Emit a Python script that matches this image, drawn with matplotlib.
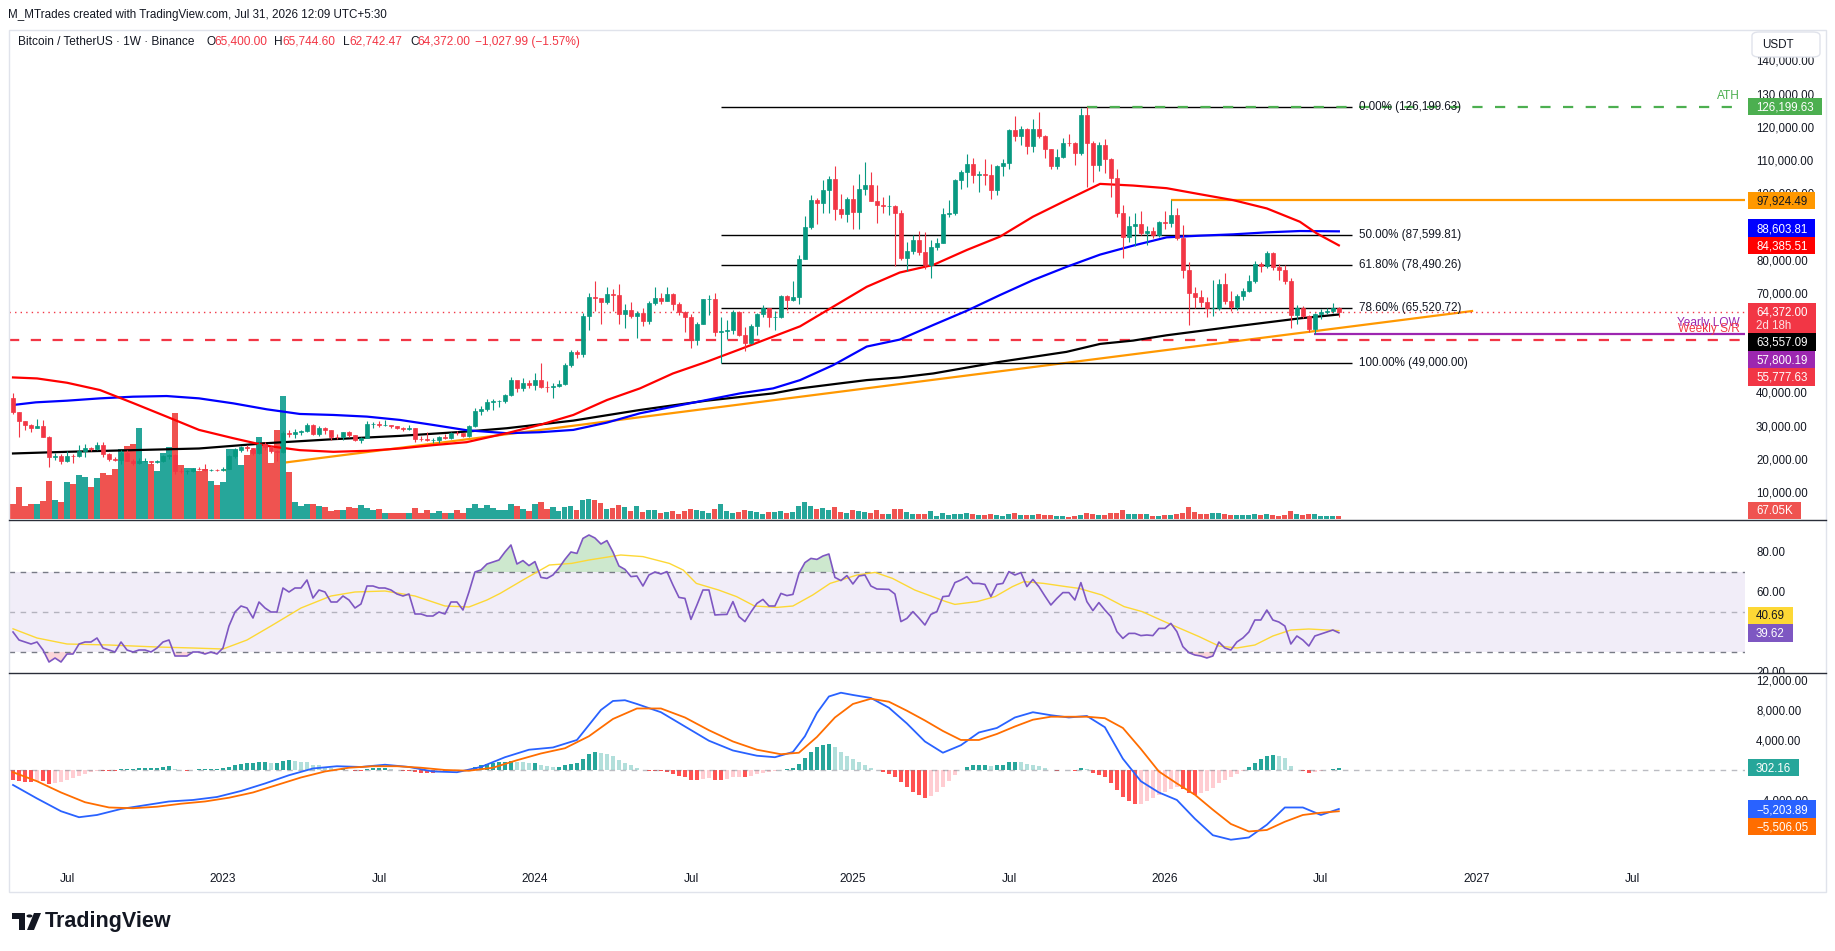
import numpy as np
import pandas as pd
import matplotlib
matplotlib.use("Agg")
import matplotlib.pyplot as plt
import matplotlib.transforms as mtransforms
from matplotlib.patches import Rectangle, FancyBboxPatch, Polygon, Circle
from matplotlib.lines import Line2D

plt.rcParams['font.family'] = ['Liberation Sans', 'DejaVu Sans']

# ---------------- data (prices in thousands of USDT, weekly bars from 2022-05-02) ----------------
first_open = 38.47
closes = [34.06, 31.33, 30.29, 29.45, 29.92, 26.57, 20.57, 21.03, 19.30, 20.85, 20.79, 22.58, 23.30, 23.18, 24.31,
          21.52, 20.05, 19.83, 21.83, 19.42, 18.93, 19.31, 19.42, 19.07, 19.57, 20.81, 21.16, 16.33, 16.28, 16.45,
          17.12, 17.10, 16.78, 16.84, 16.62, 17.13, 20.88, 22.71, 23.74, 23.33, 21.86, 24.63, 23.56, 22.43, 22.13,
          27.99, 27.48, 28.17, 28.32, 30.31, 27.59, 29.23, 28.85, 26.77, 26.75, 28.07, 27.12, 25.84, 26.34, 30.53,
          30.59, 30.17, 30.29, 29.86, 29.28, 29.04, 29.40, 26.10, 26.00, 25.83, 25.85, 26.53, 26.25, 27.97, 27.92,
          26.85, 29.99, 34.54, 35.01, 37.06, 37.36, 37.45, 39.46, 43.79, 41.37, 43.01, 42.28, 43.95, 41.73, 41.58,
          42.03, 42.58, 48.30, 52.14, 51.73, 63.11, 68.96, 68.39, 67.21, 69.65, 69.36, 63.82, 64.96, 63.11, 64.01,
          61.53, 66.94, 68.51, 67.77, 69.65, 66.68, 64.25, 62.77, 55.86, 60.79, 68.17, 68.25, 58.16, 58.72, 58.93,
          64.22, 57.30, 54.87, 59.98, 63.58, 65.64, 62.82, 62.86, 69.04, 68.02, 68.70, 80.37, 89.85, 97.90, 97.20,
          101.13, 104.46, 95.19, 93.72, 98.31, 94.52, 101.33, 102.60, 97.70, 96.46, 96.14, 96.25, 94.27, 80.70, 82.58,
          86.08, 82.39, 78.37, 83.76, 85.18, 93.75, 94.28, 104.10, 106.45, 109.00, 105.70, 105.73, 105.52, 100.96, 108.37,
          109.20, 119.08, 117.29, 119.45, 114.20, 119.30, 117.40, 113.50, 108.27, 111.10, 115.30, 115.25, 112.20, 123.50, 115.10,
          108.60, 114.60, 110.50, 104.70, 94.10, 86.90, 90.20, 90.80, 88.10, 88.70, 87.50, 91.40, 91.10, 93.50, 86.60,
          77.00, 70.00, 68.80, 67.30, 65.50, 65.60, 72.70, 67.60, 65.80, 69.10, 70.60, 73.60, 78.70, 78.20, 82.00,
          77.80, 77.00, 73.70, 63.40, 65.50, 63.10, 59.20, 63.70, 64.30, 64.60, 65.40, 64.372]
highs = [40.02, 34.24, 31.40, 30.68, 31.99, 31.77, 26.90, 21.87, 21.54, 22.53, 21.66, 24.28, 24.67, 23.65, 25.21,
         25.14, 21.88, 20.58, 22.80, 22.80, 19.96, 20.39, 20.48, 19.52, 19.70, 21.09, 21.48, 21.47, 17.19, 16.81,
         17.42, 17.48, 18.39, 16.95, 16.95, 17.49, 21.26, 23.37, 23.96, 24.26, 23.45, 25.25, 25.02, 23.88, 22.60,
         28.47, 28.87, 29.18, 28.80, 31.00, 30.47, 30.04, 29.82, 28.84, 27.66, 28.26, 28.45, 27.40, 26.80, 31.43,
         31.28, 31.50, 31.80, 30.35, 29.90, 29.74, 30.25, 29.47, 26.85, 28.15, 26.40, 27.00, 27.47, 28.06, 28.60,
         28.00, 30.38, 35.28, 35.98, 37.98, 38.00, 37.88, 39.70, 44.70, 43.43, 44.40, 43.80, 45.90, 49.05, 43.58,
         42.83, 43.88, 48.97, 52.80, 52.99, 64.00, 70.17, 73.78, 68.12, 71.73, 71.30, 72.80, 66.87, 67.23, 64.74,
         65.50, 67.70, 71.98, 70.00, 71.95, 70.18, 67.28, 64.50, 63.85, 61.37, 68.37, 69.40, 70.08, 62.75, 61.80,
         65.05, 64.48, 59.80, 60.60, 64.13, 66.50, 65.55, 64.48, 69.50, 69.52, 73.62, 81.50, 93.27, 99.59, 98.70,
         104.09, 105.25, 108.35, 99.96, 98.98, 102.70, 106.00, 109.59, 106.45, 102.50, 98.80, 99.48, 96.50, 95.00, 85.30,
         87.45, 88.77, 88.50, 86.10, 86.50, 95.75, 97.90, 104.36, 107.10, 111.98, 110.70, 106.80, 110.50, 108.95, 108.50,
         110.50, 119.50, 123.22, 120.25, 119.80, 122.30, 124.47, 117.60, 113.50, 113.40, 116.70, 117.90, 115.40, 125.70, 126.20,
         115.96, 115.50, 116.40, 110.80, 107.50, 96.60, 93.10, 94.20, 94.60, 90.30, 90.00, 91.80, 94.70, 97.92, 95.50,
         90.50, 79.30, 71.80, 70.90, 68.90, 73.90, 74.20, 76.00, 70.50, 69.80, 71.50, 75.40, 79.80, 79.30, 82.60,
         82.40, 78.80, 78.40, 74.50, 66.50, 66.20, 63.50, 64.00, 65.20, 65.40, 67.00, 65.7446]
lows = [33.71, 26.70, 28.63, 28.02, 29.30, 26.56, 17.62, 19.64, 18.63, 19.28, 18.91, 20.76, 20.71, 22.40, 22.66,
        20.76, 19.52, 19.55, 18.54, 19.32, 18.13, 18.47, 19.05, 18.19, 18.90, 19.24, 20.04, 15.59, 15.82, 15.48,
        16.13, 16.86, 16.52, 16.40, 16.33, 16.50, 17.13, 20.40, 22.29, 22.54, 21.35, 21.53, 22.80, 21.97, 19.55,
        21.90, 26.60, 26.50, 27.20, 28.17, 27.12, 26.94, 27.67, 25.81, 26.00, 25.87, 26.51, 25.35, 24.80, 26.25,
        29.50, 29.70, 29.95, 29.50, 29.00, 28.58, 28.70, 25.17, 25.35, 25.33, 24.90, 24.90, 26.20, 25.99, 27.27,
        26.53, 26.80, 29.66, 33.39, 34.52, 34.76, 35.63, 36.83, 39.00, 40.20, 40.55, 41.30, 40.75, 41.50, 40.28,
        38.55, 41.80, 42.25, 47.71, 50.52, 50.90, 59.00, 64.53, 60.76, 66.85, 64.50, 60.66, 59.60, 62.40, 56.55,
        60.19, 60.75, 66.30, 66.67, 67.60, 65.06, 63.37, 58.40, 53.50, 54.26, 60.63, 63.45, 57.12, 49.00, 56.10,
        57.80, 57.20, 52.55, 54.60, 57.50, 62.70, 59.83, 58.90, 62.45, 65.06, 67.50, 66.84, 80.20, 89.40, 90.77,
        94.20, 94.15, 92.10, 92.60, 91.50, 89.25, 89.26, 99.50, 97.70, 91.23, 94.10, 93.40, 78.25, 80.00, 76.60,
        81.70, 81.60, 77.15, 74.50, 83.00, 85.10, 92.90, 93.40, 101.40, 102.00, 103.10, 100.40, 102.66, 98.20, 99.60,
        105.20, 107.45, 115.73, 114.70, 112.00, 112.65, 116.80, 110.68, 107.25, 107.30, 110.60, 114.40, 108.70, 111.70, 102.00,
        103.50, 106.90, 106.30, 98.90, 93.00, 80.60, 85.40, 84.20, 87.60, 84.50, 86.50, 86.80, 89.30, 90.00, 86.10,
        74.60, 60.40, 65.50, 65.90, 62.80, 63.20, 64.80, 66.80, 64.60, 65.00, 67.90, 70.20, 73.00, 76.50, 77.60,
        77.00, 73.90, 72.80, 59.50, 60.60, 62.50, 58.30, 57.80, 62.30, 63.60, 64.00, 62.742]
volume_k = [330, 700, 290, 330, 330, 390, 840, 420, 370, 810, 770, 970, 920, 700, 900,
            1010, 975, 1100, 1530, 1600, 1650, 2000, 1280, 1200, 1060, 1460, 1580, 2340, 1190, 1130,
            1130, 1060, 1100, 840, 755, 815, 1540, 1540, 1195, 1415, 1525, 1810, 1700, 1225, 1960,
            2700, 1040, 375, 285, 330, 330, 285, 270, 180, 200, 200, 270, 235, 310, 250,
            200, 215, 140, 140, 130, 137, 137, 240, 137, 200, 130, 180, 140, 140, 200,
            140, 240, 330, 250, 300, 240, 200, 190, 330, 280, 230, 180, 330, 380, 230,
            260, 180, 260, 290, 190, 420, 440, 420, 360, 220, 240, 300, 260, 170, 280,
            160, 190, 200, 140, 150, 170, 120, 170, 230, 190, 170, 140, 210, 330, 170,
            140, 160, 190, 170, 150, 120, 160, 150, 170, 130, 150, 290, 380, 280, 230,
            250, 200, 260, 150, 140, 200, 170, 160, 140, 190, 110, 100, 220, 210, 150,
            100, 100, 120, 170, 70, 130, 90, 120, 100, 130, 100, 80, 90, 100, 90,
            60, 120, 140, 90, 90, 80, 100, 80, 90, 60, 60, 50, 70, 90, 140,
            120, 80, 80, 130, 130, 200, 120, 110, 100, 100, 60, 60, 80, 90, 100,
            140, 260, 160, 110, 120, 130, 130, 110, 90, 80, 80, 90, 120, 80, 100,
            90, 70, 80, 170, 120, 90, 120, 110, 70, 60, 70, 67.05]

# moving averages (sampled along the curves)
ma50_weeks = [0, 4, 9, 14.5, 20, 25.6, 31, 36.7, 42.3, 47.8, 53.4, 59, 64.5, 70, 75.6, 82.3, 87.8, 93.4, 99, 104.5,
              110, 115.6, 121.2, 126.7, 131.2, 136.7, 142.3, 147.8, 153.4, 159, 164.5, 170, 175.6, 181.2, 186.7,
              192.3, 197.8, 203.4, 209, 214.5, 217.3, 221]
ma50_vals = [44.6, 44.3, 43.0, 40.8, 36.9, 32.8, 28.8, 26.3, 24.0, 22.7, 22.2, 22.5, 23.2, 24.2, 25.1, 27.8, 30.3,
             33.3, 37.8, 41.3, 45.8, 49.3, 53.1, 56.9, 60.0, 65.9, 71.9, 76.2, 78.5, 83.0, 87.0, 93.0, 98.0, 102.9,
             102.4, 101.6, 99.8, 98.0, 95.5, 91.5, 88.0, 84.38551]
ma100_weeks = [0, 3.8, 9, 14.5, 20, 25.6, 31, 36.7, 42.3, 47.8, 53.4, 59, 64.5, 70, 75.6, 82.3, 87.8, 93.4, 99,
               104.5, 110, 115.6, 121.2, 126.7, 131.2, 136.7, 142.3, 147.8, 153.4, 159, 164.5, 170, 175.6, 181.2,
               186.7, 192.3, 197.8, 203.4, 209, 214.5, 221]
ma100_vals = [36.3, 37.1, 37.6, 38.3, 38.8, 39.0, 38.3, 36.8, 35.0, 33.6, 33.3, 32.8, 31.8, 30.3, 28.7, 27.8, 28.1,
              28.8, 31.0, 33.8, 35.8, 37.8, 39.8, 41.3, 43.8, 48.3, 53.9, 56.0, 60.4, 64.7, 69.4, 73.9, 77.9, 81.6,
              84.3, 86.8, 87.3, 87.7, 88.3, 88.7, 88.60381]
ma200_weeks = [0, 9, 20, 31, 42.3, 53.4, 64.5, 75.6, 82.3, 93.4, 104.5, 115.6, 126.7, 131.2, 137.8, 142.3, 147.8,
               153.4, 164.5, 175.6, 181.2, 186.7, 192.3, 203.4, 214.5, 221]
ma200_vals = [21.7, 22.2, 22.7, 23.2, 24.8, 26.0, 27.0, 28.3, 29.3, 31.6, 34.8, 37.6, 39.8, 41.3, 42.8, 43.8, 44.6,
              45.8, 49.3, 52.3, 54.7, 55.7, 57.3, 59.9, 62.4, 63.55709]

trend_weeks = [35.5, 243.2]
trend_prices = [16.7, 64.6]

fib_pcts = ['0.00%', '50.00%', '61.80%', '78.60%', '100.00%']
fib_prices = [126.19963, 87.59981, 78.49026, 65.52072, 49.0]
fib_span = [118, 223.2]

ath_price = 126.19963
ath_from = 179
res_price = 97.92449
res_from = 193
yearly_low = 57.80019
yearly_low_from = 216.8
weekly_sr = 55.77763

rsi = [40, 36, 35, 34, 35, 31, 25, 27, 25, 29, 29, 34, 35, 35, 37, 32, 31, 30, 35, 31, 30, 31, 31, 30, 32, 35, 36,
       28, 28, 28, 30, 30, 29, 30, 29, 32, 43, 50, 53, 52, 47, 55, 52, 50, 50, 62, 60, 62, 62, 66, 57, 61, 60, 55,
       55, 58, 56, 52, 54, 63, 63, 62, 62, 61, 59, 58, 59, 49, 49, 48, 48, 50, 49, 55, 55, 51, 60, 70, 71, 74, 75,
       76, 80, 83.5, 74, 75.7, 73.2, 75.2, 67.3, 66.8, 68.5, 72, 76.3, 80, 79.3, 86.8, 88.5, 87, 84, 85.7, 80, 73,
       71.3, 67.7, 68, 63, 68.5, 70, 69, 70.2, 63.5, 57.3, 56.8, 46.3, 53.5, 61, 61, 48.5, 48.7, 48.8, 55.2, 47.7,
       45.2, 50, 54.3, 56.3, 53, 53, 59.3, 58.2, 58.8, 69.3, 74.7, 76.8, 76.3, 78, 79, 67.3, 65.7, 68.2, 64, 68,
       68.5, 63, 61.5, 61.4, 61.3, 59, 45.2, 46.8, 50.2, 47, 43.5, 48.8, 50.2, 57.7, 58, 64.7, 66, 67.7, 64.3, 64.3,
       63.8, 57.7, 63.8, 64.3, 70.2, 68.5, 69.7, 62.7, 66.3, 62.7, 58, 53.5, 56.8, 59.7, 59.7, 56, 64.7, 55.2, 50.7,
       54.7, 51, 47.7, 40.2, 36.8, 39.3, 39.3, 38.2, 38.5, 38.2, 41.8, 41.8, 44.3, 40.2, 32.7, 29.7, 28.5, 28, 27,
       28, 35, 32, 31, 35, 37, 40, 46, 46, 51, 46, 45, 43, 34, 38, 36, 33, 38, 39, 40, 41, 39.62]
rsi_ma_weeks = [0, 4, 9, 16, 24, 30, 35, 39, 43, 48, 53, 57, 62, 67, 72, 76, 79, 81.2, 85, 89.4, 93.1, 96, 101.3,
                105, 109.4, 111.7, 113.9, 117.6, 120.6, 123.6, 127.3, 130, 133.3, 136.2, 140.7, 143.7, 146.6, 150.3,
                155.5, 157, 160.7, 163.7, 166.6, 168.5, 171.8, 175.5, 177.7, 181.5, 185.2, 188.2, 192.6, 197.7, 201,
                204, 207, 210, 213, 216, 219, 221]
rsi_ma = [41.6, 37, 34, 33.5, 32.5, 32, 31.5, 36, 43, 52, 58, 60, 60.5, 58, 53, 52.5, 56, 59.3, 66, 73.5, 74.3, 76,
          78.5, 77.7, 74.3, 71, 64.3, 61, 57.7, 53, 52.3, 53, 58.5, 64.3, 68.5, 69.8, 66.8, 61, 55.2, 53.8, 55.2,
          57.7, 62.7, 65.2, 64.3, 62.7, 61.8, 58.5, 52.7, 50.2, 44.3, 37.7, 33, 32, 33.5, 38, 41, 41.5, 41, 40.69]

macd_weeks = [0, 4, 8, 11, 14, 18, 22, 26, 30, 34, 38, 42, 46, 50, 54, 58, 62, 66, 70, 74, 78, 82, 86, 90, 94, 98,
              100, 102, 104, 108, 112, 116, 120, 124, 127, 130, 132, 134, 136, 138, 140, 143, 146, 149, 152, 155,
              158, 161, 164, 167, 170, 173, 176, 179, 182, 185, 188, 191, 194, 197, 200, 203, 206, 209, 212, 215,
              218, 221]
macd_line = [-2000, -3800, -5500, -6300, -6000, -5200, -4700, -4200, -4000, -3600, -2800, -1800, -700, 200, 500,
             400, 700, 400, -200, -300, 400, 1700, 2700, 3000, 4000, 8000, 9200, 9300, 8800, 7700, 5800, 3900, 2600,
             1900, 1700, 2400, 4500, 7600, 9800, 10300, 10000, 9600, 8300, 6200, 3800, 2300, 3300, 5000, 5600, 7000,
             7700, 7300, 7000, 7200, 5700, 1500, -1500, -3000, -4000, -6500, -8700, -9300, -9000, -7300, -5000,
             -5000, -6000, -5203.89]
signal_weeks = [0, 4, 8, 12, 16, 20, 24, 28, 32, 36, 40, 44, 48, 52, 56, 60, 64, 68, 72, 76, 80, 84, 88, 92, 96,
                100, 104, 108, 112, 116, 120, 124, 128, 131, 134, 137, 140, 143, 146, 149, 152, 155, 158, 161, 164,
                167, 170, 173, 176, 179, 182, 185, 188, 191, 194, 197, 200, 203, 206, 209, 212, 215, 218, 221]
signal_line = [-300, -1500, -3000, -4300, -5000, -5100, -4900, -4500, -4200, -3700, -3000, -2000, -1000, -200, 300,
               500, 500, 300, 0, -100, 300, 1300, 2200, 2900, 4500, 6800, 8200, 8200, 7000, 5300, 3800, 2700, 2100,
               2300, 4400, 7000, 8800, 9500, 9100, 7900, 6600, 5200, 4000, 4000, 4800, 5800, 6700, 7100, 7100, 7100,
               6900, 5600, 2800, -200, -1800, -3300, -5300, -7200, -8200, -8000, -6900, -6000, -5700, -5506.05]
macd_hist = [-1300, -1500, -1600, -1600, -1500, -1500, -1900, -1800, -1600, -1300, -1100, -800, -500, -300, -100,
             -100, -100, -100, 100, 100, 100, 200, 200, 200, 300, 400, 500, 100, 0, -100, 0, 100, 100, 100, 100,
             200, 400, 600, 800, 900, 900, 1000, 1000, 900, 900, 1200, 1300, 1200, 1100, 1000, 700, 600, 400, 200,
             100, 100, 0, -100, -100, 100, 200, 200, 200, 100, 0, -100, -100, -300, -400, -400, -400, -300, -300,
             -200, -100, -100, 100, 400, 600, 800, 900, 1000, 1000, 1200, 1100, 1000, 900, 900, 700, 500, 400, 400,
             600, 800, 900, 1500, 2100, 2400, 2300, 2100, 1800, 1300, 900, 600, 300, 0, -100, -100, -200, -300, -500,
             -800, -1000, -1300, -1400, -1200, -1100, -1300, -1300, -1200, -1000, -900, -900, -800, -600, -400, -300,
             -200, 0, 100, 200, 800, 1600, 2400, 3000, 3300, 3400, 3000, 2400, 1900, 1400, 1000, 700, 300, 0, -300,
             -600, -900, -1600, -2300, -2900, -3300, -3700, -3500, -3000, -2300, -1500, -700, 0, 400, 600, 700, 700,
             500, 600, 700, 1000, 1100, 1000, 800, 700, 500, 200, 0, -100, 0, 0, -100, 200, 100, -400, -700, -1000,
             -1700, -2700, -3600, -4200, -4600, -4500, -4200, -3800, -3300, -2900, -2500, -2300, -2600, -3100, -3300,
             -3100, -2800, -2400, -1800, -1300, -900, -500, -100, 400, 900, 1400, 1800, 2000, 1900, 1600, 500, 0,
             -200, -400, -300, -100, 0, 100, 302.16]

time_tick_months = ['2022-07', '2023-01', '2023-07', '2024-01', '2024-07', '2025-01', '2025-07', '2026-01',
                    '2026-07', '2027-01', '2027-07']
time_tick_labels = ['Jul', '2023', 'Jul', '2024', 'Jul', '2025', 'Jul', '2026', 'Jul', '2027', 'Jul']
first_bar = '2022-05-02'

# ---------------- figure ----------------
W, H = 1835, 951
fig = plt.figure(figsize=(W / 100, H / 100), dpi=100)
fig.patch.set_facecolor('white')
TXT = '#131722'
UP, DN = '#089981', '#f23645'


def rect_px(x0, y0, x1, y1):
    return [x0 / W, 1 - y1 / H, (x1 - x0) / W, (y1 - y0) / H]


PX0, PX1 = 9, 1745
P_TOP, P_BOT, R_BOT, M_BOT = 30, 520, 673, 865
vax = fig.add_axes(rect_px(PX0, P_TOP, PX1, P_BOT))
ax = fig.add_axes(rect_px(PX0, P_TOP, PX1, P_BOT), sharex=vax)
rax = fig.add_axes(rect_px(PX0, P_BOT, PX1, R_BOT), sharex=vax)
max_ = fig.add_axes(rect_px(PX0, R_BOT, PX1, M_BOT), sharex=vax)
ax.patch.set_alpha(0)
for a in (vax, ax, rax, max_):
    for s in a.spines.values():
        s.set_visible(False)
    a.set_yticks([])
    a.tick_params(left=False, labelleft=False, bottom=False, labelbottom=False)

x = np.arange(len(closes))
c = np.array(closes)
o = np.array([first_open] + closes[:-1])
hi = np.array(highs)
lo = np.array(lows)
up = c >= o
cols = np.where(up, UP, DN)

vax.set_xlim(-0.67, 288.7)
ax.set_ylim(1.66, 149.25)
vax.set_ylim(-22, 489 * 22)
rax.set_ylim(19.5, 96)
max_.set_ylim(-12670, 12930)

# trend line sits under the volume bars, so it is drawn on the volume axes in price units
vax.plot(trend_weeks, trend_prices, color='#ff9800', lw=1.6, transform=ax.transData, zorder=1)
vax.bar(x, volume_k, width=0.85, color=np.where(up, '#26a69a', '#ef5350'), linewidth=0, zorder=2)

# horizontal drawings
ax.axhline(closes[-1], color=DN, lw=1, ls=(0, (1, 3)), zorder=1)
ax.hlines(weekly_sr, -0.67, 287.8, color='#f23645', lw=1.6, ls=(0, (4.6, 5.2)), zorder=2)
ax.hlines(fib_prices, fib_span[0], fib_span[1], color='black', lw=1, zorder=2)
for p, v in zip(fib_pcts, fib_prices):
    ax.text(fib_span[1] + 1.1, v, f"{p} ({v * 1000:,.2f})", va='center', ha='left', fontsize=8.4, color=TXT)
ax.hlines(ath_price, ath_from, 287.8, color='#4caf50', lw=1.6, ls=(0, (4.6, 5.6)), zorder=2)
ax.text(287.8, 129.4, 'ATH', color='#4caf50', fontsize=8.6, ha='right', va='center')
ax.hlines(res_price, res_from, 288.7, color='#ff9800', lw=1.6, zorder=2)
ax.hlines(yearly_low, yearly_low_from, 288.7, color='#9c27b0', lw=1.6, zorder=2)
ax.text(287.8, 61.0, 'Yearly LOW', color='#9c27b0', fontsize=8.6, ha='right', va='center')
ax.text(287.8, 59.3, 'Weekly S/R', color='#f23645', fontsize=8.6, ha='right', va='center')

# moving averages
ax.plot(ma200_weeks, ma200_vals, color='black', lw=1.6, zorder=3)
ax.plot(ma100_weeks, ma100_vals, color='#0000ff', lw=1.6, zorder=3)
ax.plot(ma50_weeks, ma50_vals, color='#ff0000', lw=1.6, zorder=3)

# candles
ax.vlines(x, lo, hi, colors=cols, lw=0.8, zorder=4)
ax.bar(x, np.abs(c - o), bottom=np.minimum(o, c), width=0.72, color=cols, edgecolor=cols, linewidth=0.5, zorder=5)

# RSI
rsi_a = np.array(rsi)
rax.axhspan(30, 70, color='#7e57c2', alpha=0.1, lw=0)
rax.axhline(70, color='#787b86', lw=1, ls=(0, (4, 4)))
rax.axhline(50, color='#787b86', lw=1, ls=(0, (4, 4)), alpha=0.5)
rax.axhline(30, color='#787b86', lw=1, ls=(0, (4, 4)))
rax.fill_between(x, rsi_a, 70, where=rsi_a > 70, interpolate=True, color='#4caf50', alpha=0.28, lw=0)
rax.fill_between(x, rsi_a, 30, where=rsi_a < 30, interpolate=True, color='#f23645', alpha=0.2, lw=0)
rax.plot(rsi_ma_weeks, rsi_ma, color='#fdd835', lw=1)
rax.plot(x, rsi_a, color='#7e57c2', lw=1.2)

# MACD
hist_cols = []
prev = 0
for hv in macd_hist:
    if hv >= 0:
        hist_cols.append('#26a69a' if hv >= prev else '#b2dfdb')
    else:
        hist_cols.append('#ff5252' if hv <= prev else '#ffcdd2')
    prev = hv
max_.axhline(0, color='#787b86', lw=1, ls=(0, (4, 4)), alpha=0.5)
max_.bar(x, macd_hist, width=0.7, color=hist_cols, linewidth=0)
max_.plot(macd_weeks, macd_line, color='#2962ff', lw=1.3)
max_.plot(signal_weeks, signal_line, color='#ff6d00', lw=1.3)

# time axis
start = pd.Timestamp(first_bar)
tick_pos = []
for m in time_tick_months:
    d = pd.Timestamp(m + '-01')
    d = d + pd.Timedelta(days=(7 - d.weekday()) % 7)
    tick_pos.append((d - start).days / 7)
max_.set_xticks(tick_pos)
max_.set_xticklabels(time_tick_labels)
max_.tick_params(bottom=False, labelbottom=True, length=0, pad=6, labelsize=8.6, labelcolor=TXT)

# ---------------- frame, separators ----------------
fig.add_artist(Rectangle((9 / W, 1 - 892 / H), (1826 - 9) / W, (892 - P_TOP) / H, transform=fig.transFigure,
                         fill=False, ec='#e0e3eb', lw=1))
for yy in (P_BOT, R_BOT):
    fig.add_artist(Line2D([9 / W, 1826 / W], [1 - yy / H, 1 - yy / H], transform=fig.transFigure,
                          color='#2a2e39', lw=1))

# ---------------- right price scale ----------------
renderer = fig.canvas.get_renderer()
TX, BX, FS = 1756, 1748, 8.3
CAP = FS * 100 / 72 * 0.36
TAG_H = 17.5
boxes = []


def ypix(a, v):
    return H - a.transData.transform((0, v))[1]


def clip_for(top, bot):
    return mtransforms.TransformedBbox(mtransforms.Bbox([[PX1 / W, 1 - bot / H], [1826 / W, 1 - top / H]]),
                                       fig.transFigure)


def scale_text(yc, s, top, bot):
    for bt, bb in boxes:
        if bt <= yc - 4 and bb >= yc + 4:
            return
    t = fig.text(TX / W, 1 - (yc + CAP) / H, s, fontsize=FS, color=TXT, va='baseline', ha='left', zorder=3)
    t.set_clip_box(clip_for(top, bot))
    t.set_clip_on(True)


def tag(yc, s, fc, tc, top, bot, second=None):
    hgt = TAG_H if second is None else 30
    ytop = yc - TAG_H / 2
    boxes.append((ytop, ytop + hgt))
    t = fig.text(TX / W, 1 - (yc + CAP) / H, s, fontsize=FS, color=tc, va='baseline', ha='left', zorder=7)
    wdt = t.get_window_extent(renderer).width + 16
    if second is not None:
        t2 = fig.text(TX / W, 1 - (yc + CAP + 13.5) / H, second, fontsize=FS, color=tc, alpha=0.85,
                      va='baseline', ha='left', zorder=7)
        t2.set_clip_box(clip_for(top, bot))
        t2.set_clip_on(True)
    r = Rectangle((BX / W, 1 - (ytop + hgt) / H), wdt / W, hgt / H, transform=fig.transFigure,
                  fc=fc, ec='none', zorder=6)
    r.set_clip_box(clip_for(top, bot))
    r.set_clip_on(True)
    fig.add_artist(r)
    t.set_clip_box(clip_for(top, bot))
    t.set_clip_on(True)


def stack(anchor_y, anchor_h, above, below):
    out = []
    half = TAG_H / 2
    lim = anchor_y - half
    for yn, item in sorted(above, key=lambda z: -z[0]):
        yy = min(yn, lim - half)
        out.append((yy, item))
        lim = yy - half
    lim = anchor_y - half + anchor_h
    for yn, item in sorted(below, key=lambda z: z[0]):
        yy = max(yn, lim + half)
        out.append((yy, item))
        lim = yy + half
    return out


def fmt(v):
    return f"{v:,.2f}".replace('-', '\u2212')


# price pane tags
last = closes[-1]
ya = ypix(ax, last)
above = [(ypix(ax, v), (fmt(v * 1000), fc, tc)) for v, fc, tc in
         [(ath_price, '#4caf50', 'white'), (res_price, '#ff9800', TXT),
          (ma100_vals[-1], '#0000ff', 'white'), (ma50_vals[-1], '#ff0000', 'white')]]
below = [(ypix(ax, v), (fmt(v * 1000), fc, tc)) for v, fc, tc in
         [(ma200_vals[-1], '#000000', 'white'), (yearly_low, '#9c27b0', 'white'), (weekly_sr, '#f23645', 'white')]]
tag(ya, fmt(last * 1000), '#f23645', 'white', P_TOP, P_BOT, second='2d 18h')
for yy, (s, fc, tc) in stack(ya, 30, above, below):
    tag(yy, s, fc, tc, P_TOP, P_BOT)
yv = min(ypix(vax, volume_k[-1]), P_BOT - 1 - TAG_H / 2)
tag(yv, f"{volume_k[-1]:.2f}K", '#ef5350', 'white', P_TOP, P_BOT)

# RSI tags
yr = ypix(rax, rsi[-1])
tag(yr, fmt(rsi[-1]), '#7e57c2', 'white', P_BOT, R_BOT)
for yy, (s, fc, tc) in stack(yr, TAG_H, [(ypix(rax, rsi_ma[-1]), (fmt(rsi_ma[-1]), '#fdd835', TXT))], []):
    tag(yy, s, fc, tc, P_BOT, R_BOT)

# MACD tags
ym = ypix(max_, macd_line[-1])
tag(ym, fmt(macd_line[-1]), '#2962ff', 'white', R_BOT, M_BOT)
for yy, (s, fc, tc) in stack(ym, TAG_H, [(ypix(max_, macd_hist[-1]), (fmt(macd_hist[-1]), '#26a69a', 'white'))],
                             [(ypix(max_, signal_line[-1]), (fmt(signal_line[-1]), '#ff6d00', 'white'))]):
    tag(yy, s, fc, tc, R_BOT, M_BOT)

# scale numbers (hidden where a tag covers them)
for v in range(10, 150, 10):
    scale_text(ypix(ax, v), f"{v * 1000:,.2f}", P_TOP, P_BOT)
for v in (20, 40, 60, 80):
    scale_text(ypix(rax, v), f"{v:.2f}", P_BOT, R_BOT)
for v in (12000, 8000, 4000, 0, -4000, -8000):
    scale_text(ypix(max_, v), fmt(v), R_BOT, M_BOT)

# currency box
fig.add_artist(FancyBboxPatch((1752 / W, 1 - 57 / H), 68 / W, 25 / H, transform=fig.transFigure,
                              boxstyle='round,pad=0,rounding_size=0.004', fc='white', ec='#e0e3eb', lw=1, zorder=8))
fig.text(1762 / W, 1 - 45 / H, 'USDT', fontsize=8.4, color=TXT, va='center', ha='left', zorder=9)

# ---------------- header texts ----------------
fig.text(8 / W, 1 - 15 / H, 'M_MTrades created with TradingView.com, Jul 31, 2026 12:09 UTC+5:30',
         fontsize=8.4, color=TXT, va='center', ha='left')
legend_parts = [(18, 'Bitcoin / TetherUS \u00b7 1W \u00b7 Binance', TXT), (206, 'O', TXT), (214, '65,400.00', DN),
                (274, 'H', TXT), (282, '65,744.60', DN), (343, 'L', TXT), (349, '62,742.47', DN),
                (410, 'C', TXT), (417, '64,372.00', DN), (475, '\u22121,027.99 (\u22121.57%)', DN)]
for xp, s, col in legend_parts:
    fig.text(xp / W, 1 - 42 / H, s, fontsize=8.6, color=col, va='center', ha='left')

# ---------------- logo ----------------
fig.add_artist(Polygon([(12 / W, 1 - 913 / H), (25 / W, 1 - 913 / H), (25 / W, 1 - 930 / H), (19 / W, 1 - 930 / H),
                        (19 / W, 1 - 919 / H), (12 / W, 1 - 919 / H)], closed=True, transform=fig.transFigure,
                       fc=TXT, ec='none'))
fig.add_artist(Circle((29.5 / W, 1 - 916 / H), 3 / W, transform=fig.transFigure, fc=TXT, ec='none'))
fig.add_artist(Polygon([(34 / W, 1 - 913 / H), (41 / W, 1 - 913 / H), (34 / W, 1 - 930 / H), (27 / W, 1 - 930 / H)],
                       closed=True, transform=fig.transFigure, fc=TXT, ec='none'))
fig.text(45 / W, 1 - 921 / H, 'TradingView', fontsize=15.5, fontweight='bold', color=TXT, va='center', ha='left')

fig.savefig('out.png', dpi=100, facecolor='white')
